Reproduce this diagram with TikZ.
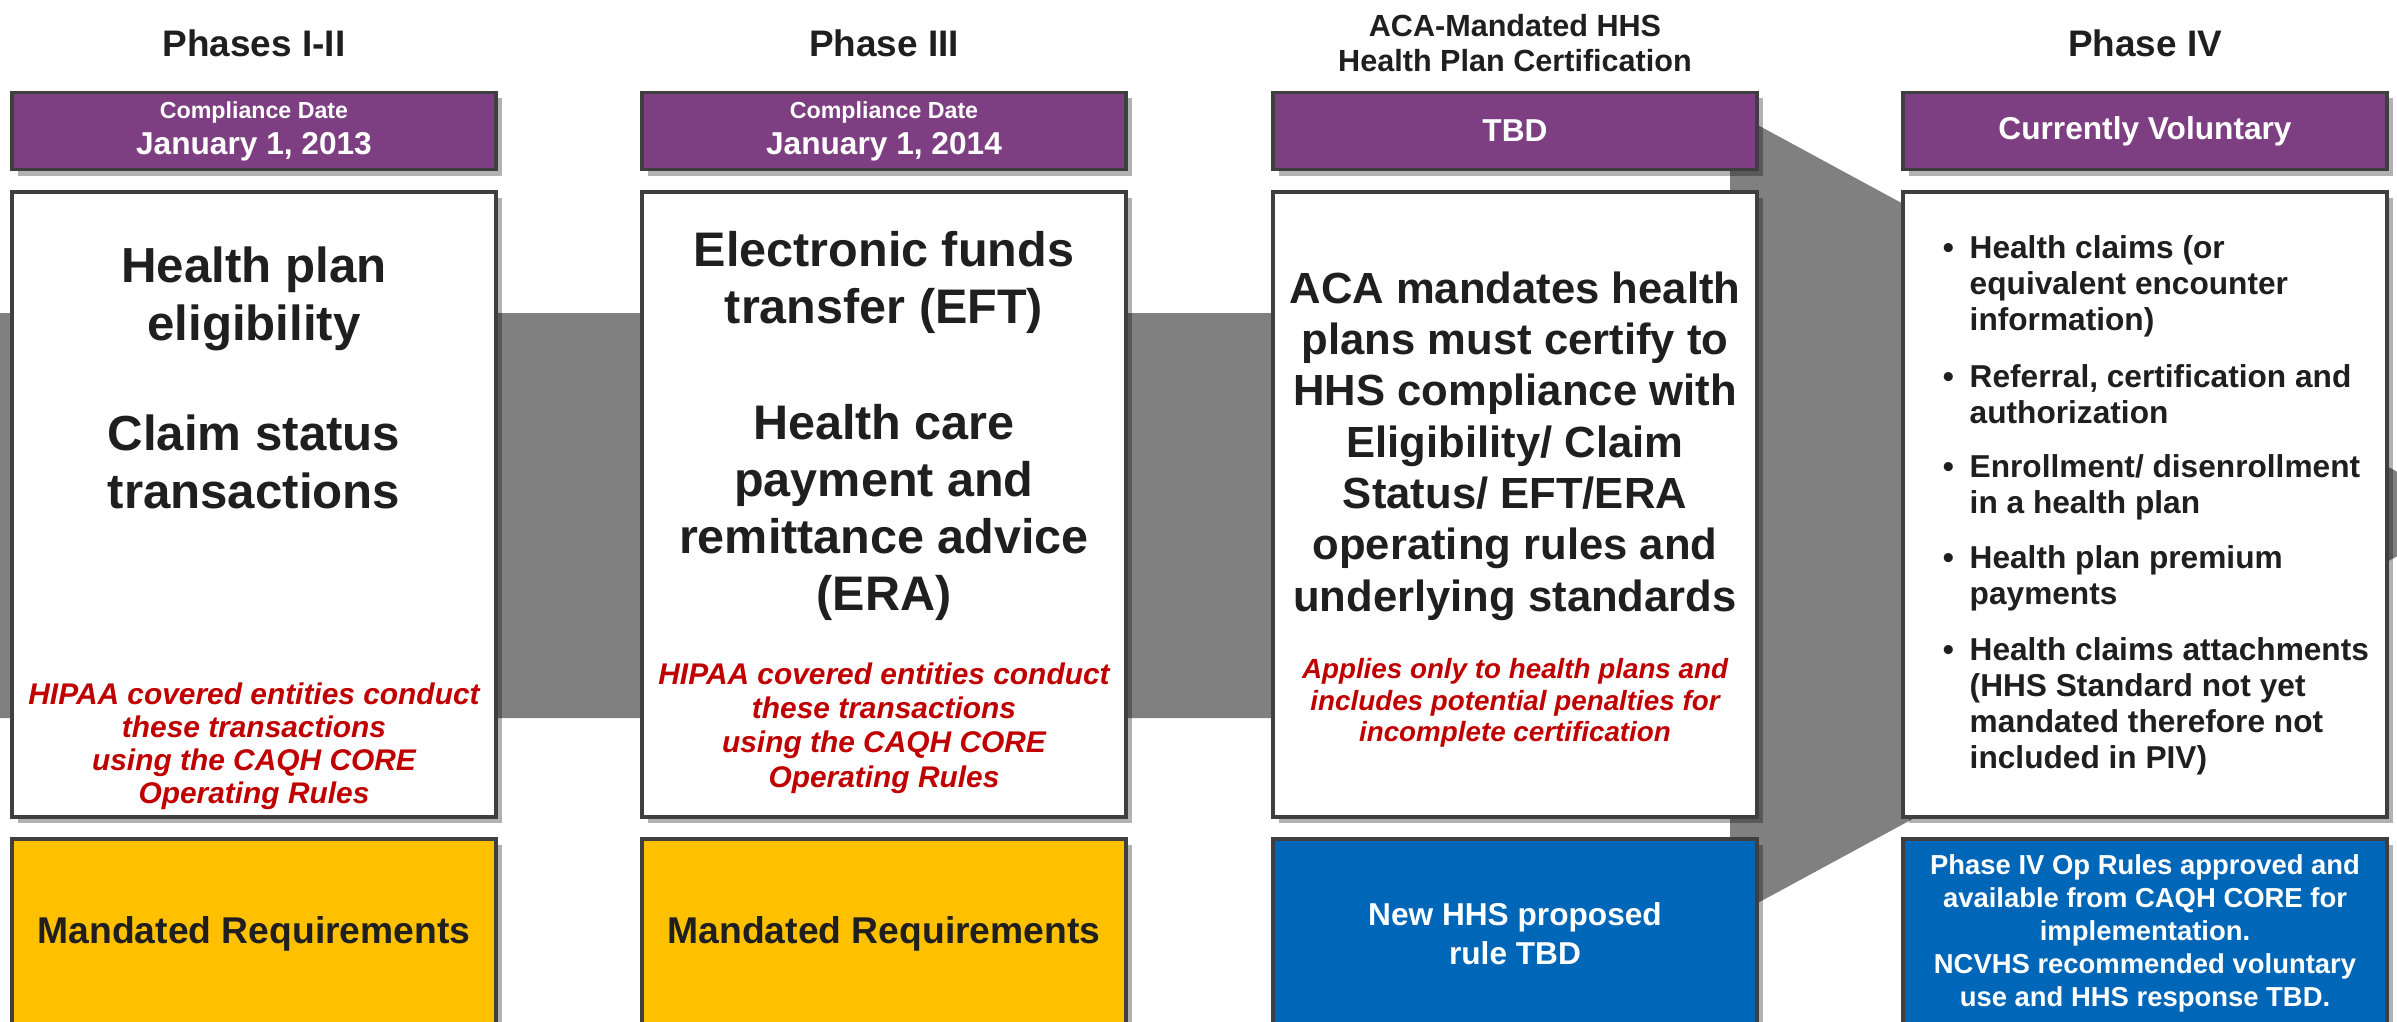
\documentclass[tikz,border=0pt]{standalone}
\usepackage{fontspec}
\setmainfont{Liberation Sans}
\usetikzlibrary{positioning, shadows}

\definecolor{hdrpurple}{HTML}{7D3F82}
\definecolor{boxblue}{HTML}{0066B8}
\definecolor{mandgold}{HTML}{FFC000}
\definecolor{notered}{HTML}{C00000}
\definecolor{arrowgrey}{HTML}{808080}
\definecolor{edgegrey}{HTML}{3F3F3F}
\definecolor{inkblack}{HTML}{1F1F1F}

\begin{document}
\begin{tikzpicture}[x=0.01cm, y=-0.01cm]
    \tikzset{BoxStyle/.style = {draw=edgegrey, line width=1.1pt, inner sep=0pt,
        minimum width=4.83cm, align=center, text=white,
        drop shadow={shadow xshift=0.06cm, shadow yshift=-0.06cm, fill=black, opacity=0.3}}}
    \tikzset{HeadStyle/.style = {BoxStyle, fill=hdrpurple, minimum height=0.77cm,
        font=\bfseries\fontsize{9}{10.3}\selectfont}}
    \tikzset{MainStyle/.style = {BoxStyle, fill=white, minimum height=6.24cm}}
    \tikzset{GoldStyle/.style = {BoxStyle, fill=mandgold, text=inkblack, minimum height=1.9cm,
        font=\bfseries\fontsize{10.6}{12}\selectfont}}
    \tikzset{BlueStyle/.style = {BoxStyle, fill=boxblue, minimum height=1.9cm}}
    \tikzset{TitleStyle/.style = {align=center, text=inkblack, font=\bfseries\fontsize{10.5}{12}\selectfont}}
    \tikzset{BodyStyle/.style = {align=center, text=inkblack, inner sep=0pt}}
    \tikzset{NoteStyle/.style = {align=center, text=notered, inner sep=0pt}}
    \tikzset{ItemStyle/.style = {align=left, text=inkblack, inner sep=0pt, anchor=north west,
        font=\bfseries\fontsize{9}{10.2}\selectfont}}

    \useasboundingbox (0,0) rectangle (2397,1021);
    \clip (0,0) rectangle (2397,1021);
    \fill[white] (0,0) rectangle (2397,1021);

    % grey arrow behind the columns
    \fill[arrowgrey] (0,313) -- (1730,313) -- (1730,110) -- (2475,514)
        -- (1730,918) -- (1730,718) -- (0,718) -- cycle;

    % Phases I-II
    \node[TitleStyle] (titleI) at (254,43) {Phases I-II};
    \node[HeadStyle] (headI) at (254,131) {{\fontsize{6.6}{7}\selectfont Compliance Date}\\January 1, 2013};
    \node[MainStyle, below=0.19cm of headI] (mainI) {};
    \node[GoldStyle, below=0.18cm of mainI] (footI) {Mandated Requirements};
    \node[BodyStyle, font=\bfseries\fontsize{14}{16.5}\selectfont] (bodyI) at (254,378)
        {Health plan\\eligibility\\[14.8pt]Claim status\\transactions};
    \node[NoteStyle, font=\bfseries\itshape\fontsize{8.5}{9.4}\selectfont] (noteI) at (254,746)
        {HIPAA covered entities conduct\\these transactions\\using the CAQH CORE\\Operating Rules};

    % Phase III
    \node[TitleStyle] (titleII) at (884,43) {Phase III};
    \node[HeadStyle] (headII) at (884,131) {{\fontsize{6.6}{7}\selectfont Compliance Date}\\January 1, 2014};
    \node[MainStyle, below=0.19cm of headII] (mainII) {};
    \node[GoldStyle, below=0.18cm of mainII] (footII) {Mandated Requirements};
    \node[BodyStyle, font=\bfseries\fontsize{13.8}{16.2}\selectfont] (bodyII) at (884,426)
        {Electronic funds\\transfer (EFT)\\[16.8pt]Health care\\payment and\\remittance advice\\(ERA)};
    \node[NoteStyle, font=\bfseries\itshape\fontsize{8.5}{9.8}\selectfont] (noteII) at (884,728)
        {HIPAA covered entities conduct\\these transactions\\using the CAQH CORE\\Operating Rules};

    % certification
    \node[TitleStyle, font=\bfseries\fontsize{8.7}{10}\selectfont] (titleCert) at (1515,43)
        {ACA-Mandated HHS\\Health Plan Certification};
    \node[HeadStyle] (headCert) at (1515,131) {TBD};
    \node[MainStyle, below=0.19cm of headCert] (mainCert) {};
    \node[BlueStyle, below=0.18cm of mainCert, font=\bfseries\fontsize{9}{11}\selectfont] (footCert)
        {New HHS proposed\\rule TBD};
    \node[BodyStyle, font=\bfseries\fontsize{12.4}{14.6}\selectfont] (bodyCert) at (1515,446)
        {ACA mandates health\\plans must certify to\\HHS compliance with\\Eligibility/ Claim\\Status/ EFT/ERA\\operating rules and\\underlying standards};
    \node[NoteStyle, font=\bfseries\itshape\fontsize{7.9}{9}\selectfont] (noteCert) at (1515,703)
        {Applies only to health plans and\\includes potential penalties for\\incomplete certification};

    % Phase IV
    \node[TitleStyle] (titleIV) at (2145,43) {Phase IV};
    \node[HeadStyle] (headIV) at (2145,131) {Currently Voluntary};
    \node[MainStyle, below=0.19cm of headIV] (mainIV) {};
    \node[BlueStyle, below=0.18cm of mainIV, font=\bfseries\fontsize{7.8}{9.4}\selectfont] (footIV)
        {Phase IV Op Rules approved and\\available from CAQH CORE for\\implementation.\\NCVHS recommended voluntary\\use and HHS response TBD.};
    \node[ItemStyle] (itemA) at (1969,235)
        {\llap{\textbullet\hspace{4.5pt}}Health claims (or\\equivalent encounter\\information)};
    \node[ItemStyle] (itemB) at (1969,364)
        {\llap{\textbullet\hspace{4.5pt}}Referral, certification and\\authorization};
    \node[ItemStyle] (itemC) at (1969,454)
        {\llap{\textbullet\hspace{4.5pt}}Enrollment/ disenrollment\\in a health plan};
    \node[ItemStyle] (itemD) at (1969,545)
        {\llap{\textbullet\hspace{4.5pt}}Health plan premium\\payments};
    \node[ItemStyle] (itemE) at (1969,637)
        {\llap{\textbullet\hspace{4.5pt}}Health claims attachments\\(HHS Standard not yet\\mandated therefore not\\included in PIV)};
\end{tikzpicture}
\end{document}
